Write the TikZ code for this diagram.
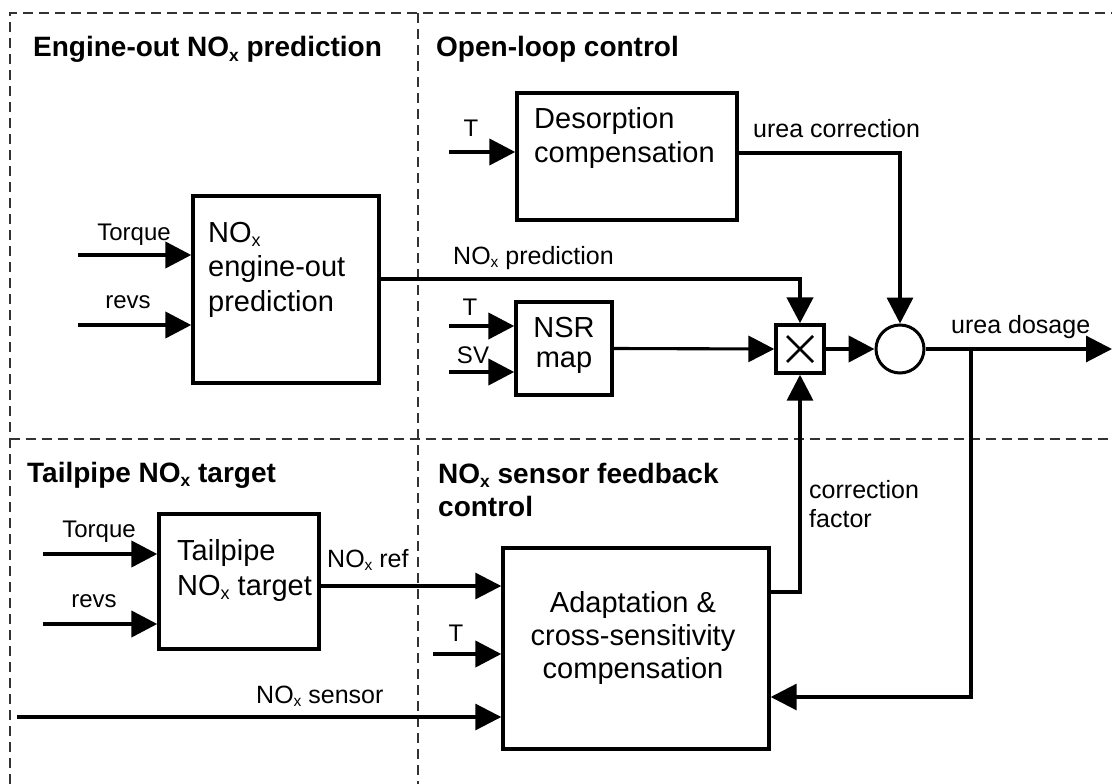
\documentclass[tikz,border=0pt]{standalone}
\usepackage{fontspec}
\usepackage{graphicx}
\setmainfont{Liberation Sans}
\usetikzlibrary{arrows.meta}
\newcommand\nox{NO\raisebox{-0.28ex}{\scalebox{0.62}{x}}}
\tikzset{
  frame/.style={draw=black!80, line width=1.8pt, dash pattern=on 10pt off 6pt},
  block/.style={draw, line width=3.4pt, rectangle, inner sep=0pt},
  boxtext/.style={inner sep=0pt, font=\fontsize{29}{34}\selectfont},
  title/.style={inner sep=0pt, font=\fontsize{28}{33}\selectfont\bfseries},
  lbl/.style={inner sep=0pt, font=\fontsize{25}{29}\selectfont},
  inlbl/.style={inner sep=0pt, font=\fontsize{24}{28}\selectfont, anchor=base},
  tip/.style={-{Triangle[length=26pt,width=26pt]}},
  inarrow/.style={tip, line width=4.2pt},
  sig/.style={tip, line width=3.1pt},
  sigthick/.style={tip, line width=4.5pt},
}
\begin{document}
\begin{tikzpicture}[x=1pt, y=-1pt]
\useasboundingbox (0,0) rectangle (1112,784);

% panel frame
\draw[frame] (10,784) -- (10,13) -- (1112,13);
\draw[frame] (418,13) -- (418,784);
\draw[frame] (10,439) -- (1112,439);

% panel titles
\node[title, anchor=base west] (t1) at (33,57) {Engine-out \nox{} prediction};
\node[title, anchor=base west] (t2) at (436,57) {Open-loop control};
\node[title, anchor=base west] (t3) at (27,482) {Tailpipe \nox{} target};
\node[title, anchor=north west, align=left] (t4) at (438,463) {\nox{} sensor feedback\\control};

% blocks
\node[block, minimum width=186pt, minimum height=187pt] (eng) at (286,289.5) {};
\node[block, minimum width=220pt, minimum height=127pt] (des) at (627,156.5) {};
\node[block, minimum width=96pt, minimum height=93pt] (nsr) at (564,348.5) {};
\node[block, minimum width=48pt, minimum height=48pt] (mul) at (800,349) {};
\node[draw, circle, line width=3pt, minimum size=48pt, inner sep=0pt] (sum) at (900,349) {};
\node[block, minimum width=160pt, minimum height=135pt] (tail) at (239,581.5) {};
\node[block, minimum width=266pt, minimum height=201pt] (adapt) at (636,648.5) {};

% block texts
\node[boxtext, anchor=north west, align=left, font=\fontsize{29}{34.5}\selectfont] (engtxt) at (208,222) {\nox\\engine-out\\prediction};
\node[boxtext, anchor=north west, align=left] (destxt) at (534,107) {Desorption\\compensation};
\node[boxtext, anchor=north, align=center, font=\fontsize{29}{30}\selectfont] (nsrtxt) at (564,317) {NSR\\map};
\node[boxtext, anchor=north west, align=left, font=\fontsize{29}{35}\selectfont] (tailtxt) at (177,539) {Tailpipe\\\nox{} target};
\node[boxtext, anchor=north, align=center, font=\fontsize{29}{33}\selectfont] (adapttxt) at (633,591) {Adaptation \&\\cross-sensitivity\\compensation};

% multiplication sign
\draw[line width=2.6pt] ([shift={(-13,-13)}]mul.center) -- ([shift={(13,13)}]mul.center);
\draw[line width=2.6pt] ([shift={(-13,13)}]mul.center) -- ([shift={(13,-13)}]mul.center);

% inputs of the engine-out prediction
\coordinate (etq) at (78,255);
\coordinate (erv) at (78,325);
\draw[inarrow] (etq) -- (etq -| eng.west);
\draw[inarrow] (erv) -- (erv -| eng.west);
\node[inlbl] (letq) at (134,240) {Torque};
\node[inlbl] (lerv) at (128,308) {revs};

% open-loop inputs
\coordinate (dT) at (449,152);
\draw[inarrow] (dT) -- (dT -| des.west);
\node[inlbl] (ldT) at (471,136) {T};
\coordinate (nT) at (449,326);
\coordinate (nSV) at (449,372);
\draw[inarrow] (nT) -- (nT -| nsr.west);
\draw[inarrow] (nSV) -- (nSV -| nsr.west);
\node[inlbl] (lnT) at (470,315) {T};
\node[inlbl] (lnSV) at (473,363) {SV};

% tailpipe target inputs
\coordinate (ttq) at (43,554);
\coordinate (trv) at (43,624);
\draw[inarrow] (ttq) -- (ttq -| tail.west);
\draw[inarrow] (trv) -- (trv -| tail.west);
\node[inlbl] (lttq) at (99,537) {Torque};
\node[inlbl] (ltrv) at (94,607) {revs};

% feedback block inputs
\coordinate (aT) at (433,654);
\draw[inarrow] (aT) -- (aT -| adapt.west);
\node[inlbl] (laT) at (456,641) {T};
\coordinate (rf) at (400,586);
\draw[sig] (tail.east |- rf) -- (rf -| adapt.west);
\node[lbl, anchor=base west] (lrf) at (327,567) {\nox{} ref};
\coordinate (ns) at (17,717);
\draw[sig] (ns) -- (ns -| adapt.west);
\node[lbl, anchor=base west] (lns) at (256,703) {\nox{} sensor};

% signal paths
\coordinate (np) at (800,279);
\draw[sigthick] (eng.east |- np) -- (np) -- (mul.north);
\node[lbl, anchor=base west] (lnp) at (453,264) {\nox{} prediction};

\coordinate (uc) at (900,153);
\draw[sig, line width=3.5pt] (des.east |- uc) -- (uc) -- (sum.north);
\node[lbl, anchor=base west] (luc) at (753,137) {urea correction};

\draw[sig] (nsr.east) -- (mul.west);
\draw[sigthick] (mul.east) -- (sum.west);

\coordinate (dose) at (1112,349);
\draw[sig] (sum.east) -- (dose);
\node[lbl, anchor=base west] (ldose) at (951,333) {urea dosage};

\coordinate (br) at (971,349);
\coordinate (fb) at (971,697);
\draw[sig] (br) -- (fb) -- (fb -| adapt.east);

\coordinate (cf) at (800,592);
\draw[sig, line width=3.5pt] (adapt.east |- cf) -- (cf) -- (mul.south);
\node[lbl, anchor=north west, align=left] (lcf) at (809,480) {correction\\factor};
\end{tikzpicture}
\end{document}
